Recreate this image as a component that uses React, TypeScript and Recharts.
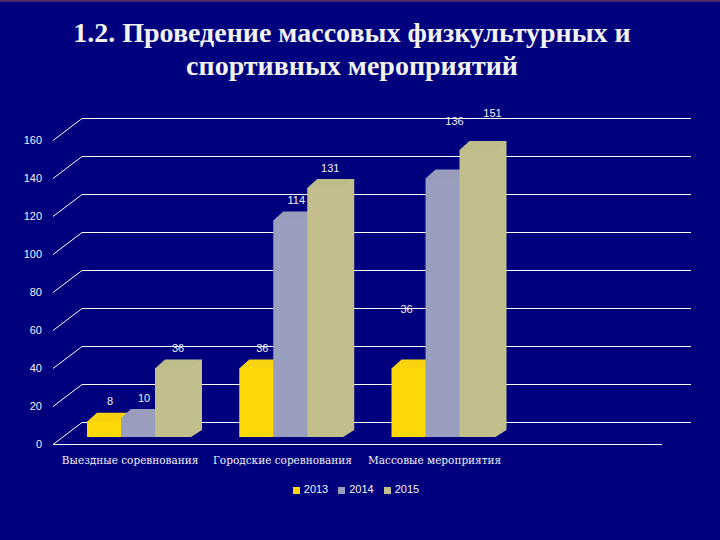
import React from "react";
import { BarChart, Bar, XAxis, YAxis, CartesianGrid, Legend, LabelList } from "recharts";

const categories = ["Выездные соревнования", "Городские соревнования", "Массовые мероприятия", " "];
const values2013 = [8, 36, 36, null];
const values2014 = [10, 114, 136, null];
const values2015 = [36, 131, 151, null];
const yTicks = [0, 20, 40, 60, 80, 100, 120, 140, 160];
const titleLines = ["1.2. Проведение массовых физкультурных и", "спортивных мероприятий"];

const rows = categories.map((name, i) => ({
  name,
  y2013: values2013[i],
  y2014: values2014[i],
  y2015: values2015[i],
}));

const NAVY = "#00007f";
const INK = "#f2f2f2";
const SANS = "'Liberation Sans', sans-serif";
const SERIF = "'DejaVu Serif', serif";
const WALL = { dx: 29, dy: -22 };
const BAR_SHIFT = { dx: 9, dy: -7.5 };
const DEPTH = { dx: 13, dy: -9 };

const labelNudges: Record<string, Record<number, [number, number]>> = {
  y2013: { 2: [-8, -39] },
  y2014: { 2: [6, -37] },
  y2015: { 2: [10, -17] },
};

function Box(props: any) {
  const { x, y, width, height, fill } = props;
  if (!height || height <= 0) return null;
  const x0 = x + BAR_SHIFT.dx;
  const y0 = y + BAR_SHIFT.dy;
  const x1 = x0 + width;
  const yb = y0 + height;
  const d = DEPTH;
  const outline = `${x0},${y0} ${x0 + 10},${y0 + d.dy} ${x1 + d.dx},${y0 + d.dy} ${x1 + d.dx},${yb + d.dy + 2} ${x1 + 2},${yb} ${x0},${yb}`;
  const top = `${x0},${y0} ${x0 + 10},${y0 + d.dy} ${x1 + d.dx},${y0 + d.dy} ${x1},${y0}`;
  return (
    <g>
      <polygon points={outline} fill={fill} />
      <polygon points={top} fill="#808080" fillOpacity={0.05} />
    </g>
  );
}

function makeLabel(key: string) {
  return (props: any) => {
    const { x, y, value, index } = props;
    if (value == null) return null;
    const [nx, ny] = labelNudges[key]?.[index] ?? [0, 0];
    return (
      <text
        x={x + 32 + nx}
        y={y - 28 + ny}
        textAnchor="middle"
        dominantBaseline="central"
        fill={INK}
        fontFamily={SANS}
        fontSize={11}
      >
        {value}
      </text>
    );
  };
}

function GridLine(props: any) {
  const { x1, x2, y1 } = props;
  return (
    <g stroke="#ffffff" strokeWidth={1}>
      <line x1={x1} y1={y1} x2={x1 + WALL.dx} y2={y1 + WALL.dy} />
      <line x1={x1 + WALL.dx} y1={y1 + WALL.dy} x2={x2 + WALL.dx} y2={y1 + WALL.dy} />
    </g>
  );
}

function YTick(props: any) {
  const { x, y, payload } = props;
  return (
    <text x={x - 3} y={y - 1} textAnchor="end" dominantBaseline="central" fill={INK} fontFamily={SANS} fontSize={11}>
      {payload.value}
    </text>
  );
}

function XTick(props: any) {
  const { x, y, payload } = props;
  return (
    <text x={x + 1} y={y + 7} textAnchor="middle" dominantBaseline="central" fill={INK} fontFamily={SERIF} fontSize={10.5}>
      {payload.value}
    </text>
  );
}

export default function App() {
  return (
    <div style={{ position: "absolute", left: 0, top: 0, width: 720, height: 540, background: NAVY, overflow: "hidden" }}>
      <div style={{ position: "absolute", left: 0, top: 0, width: 720, height: 2, background: "#4b2a6b" }} />
      <div
        style={{
          position: "absolute",
          left: 0,
          top: 16,
          width: 704,
          textAlign: "center",
          fontFamily: "'Liberation Serif', serif",
          fontWeight: 700,
          fontSize: 28,
          lineHeight: "33px",
          color: INK,
        }}
      >
        {titleLines.map((t) => (
          <div key={t}>{t}</div>
        ))}
      </div>
      <div style={{ position: "absolute", left: 0, top: 0 }}>
        <BarChart
          width={720}
          height={540}
          data={rows}
          margin={{ left: 0, right: 58, top: 140.5, bottom: 0 }}
          barGap={0}
          barCategoryGap={25}
        >
          <CartesianGrid vertical={false} horizontal={(p: any) => <GridLine key={p.key ?? p.y1} {...p} />} />
          <XAxis
            dataKey="name"
            height={95.5}
            axisLine={{ stroke: "#ffffff", strokeWidth: 1 }}
            tickLine={false}
            tick={<XTick />}
            interval={0}
          />
          <YAxis width={53} domain={[0, 160]} ticks={yTicks} axisLine={false} tickLine={false} tick={<YTick />} interval={0} />
          <Legend
            verticalAlign="middle"
            iconType="square"
            iconSize={7}
            wrapperStyle={{ position: "absolute", left: 3, top: 483, width: 716, fontFamily: SANS, fontSize: 11 }}
            formatter={(v: any) => <span style={{ color: INK }}>{v}</span>}
          />
          <Bar dataKey="y2013" name="2013" fill="#ffd808" shape={<Box />} isAnimationActive={false}>
            <LabelList dataKey="y2013" content={makeLabel("y2013")} />
          </Bar>
          <Bar dataKey="y2014" name="2014" fill="#9a9ebe" shape={<Box />} isAnimationActive={false}>
            <LabelList dataKey="y2014" content={makeLabel("y2014")} />
          </Bar>
          <Bar dataKey="y2015" name="2015" fill="#c2bf8c" shape={<Box />} isAnimationActive={false}>
            <LabelList dataKey="y2015" content={makeLabel("y2015")} />
          </Bar>
        </BarChart>
      </div>
    </div>
  );
}
